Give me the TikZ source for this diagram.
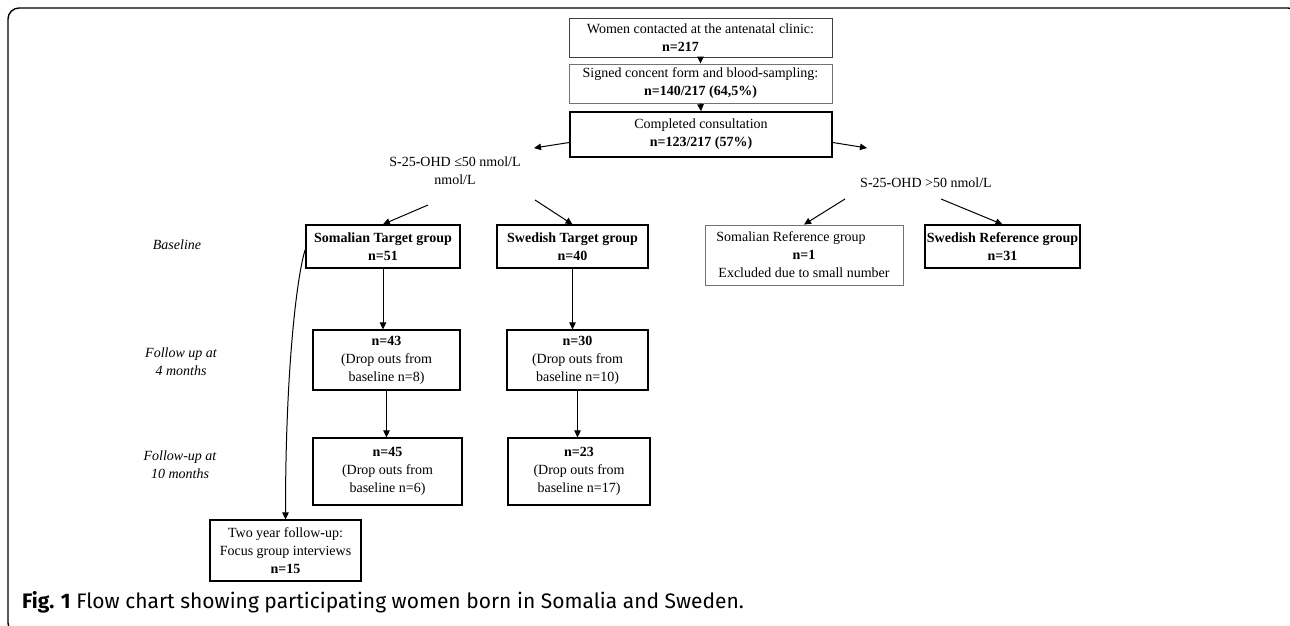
\documentclass[tikz,border=0pt]{standalone}
\usepackage{fontspec}
\setmainfont{Liberation Serif}
\newfontfamily\capfont{Fira Sans}
\usetikzlibrary{arrows.meta}
\tikzset{
  txt/.style={font=\fontsize{14}{18}\selectfont, align=center, inner sep=0pt},
  bx/.style={txt, draw, line width=1.2pt},
  thinbx/.style={txt, draw=black!55, line width=0.9pt},
  lab/.style={font=\fontsize{14}{18}\selectfont\itshape, align=center, inner sep=0pt},
  conn/.style={line width=1pt, -{Triangle[length=7pt,width=6.5pt]}},
}
\begin{document}
\begin{tikzpicture}[x=1pt,y=-1pt]
\useasboundingbox (0,0) rectangle (1290,626);
\fill[white] (0,0) rectangle (1290,626);
% frame
\draw[line width=1.4pt, rounded corners=11pt] (8,8) rectangle (1299,634);

% top chain
\node[thinbx, draw=black!75, minimum width=263pt, minimum height=39pt] (b1) at (700.5,37.5)
  {Women contacted at the antenatal clinic:\\ \textbf{n=217}\hspace*{40pt}};
\node[thinbx, minimum width=263pt, minimum height=39pt] (b2) at (700.5,83.5)
  {Signed concent form and blood\textbf{-}sampling:\\ \textbf{n=140/217 (64,5\%)}};
\node[bx, line width=1.6pt, minimum width=262pt, minimum height=45pt] (b3) at (701,134.5)
  {Completed consultation\\ \textbf{n=123/217 (57\%)}};

% branch labels
\node[txt] (low) at (455,171) {S\textbf{-}25\textbf{-}OHD ≤50 nmol/L\\ nmol/L};
\node[txt] (high) at (926,183) {S\textbf{-}25\textbf{-}OHD >50 nmol/L};

% baseline row
\node[bx, line width=1.4pt, minimum width=154pt, minimum height=43pt] (stg) at (383,246.5)
  {\textbf{Somalian Target group}\\ \textbf{n=51}};
\node[bx, minimum width=151pt, minimum height=43pt] (swtg) at (572.5,246.5)
  {\textbf{Swedish Target group}\\ \textbf{n=40}};
\node[thinbx, minimum width=198pt, minimum height=60pt] (somref) at (804,255)
  {Somalian Reference group\hspace*{26pt}\\ \textbf{n=1}\\ Excluded due to small number};
\node[bx, minimum width=155pt, minimum height=43pt] (swref) at (1002.5,246.5)
  {\textbf{Swedish Reference group}\\ \textbf{n=31}};

% follow-up rows
\node[bx, minimum width=147pt, minimum height=60pt] (n43) at (386.5,360)
  {\textbf{n=43}\\ (Drop outs from\\ baseline n=8)};
\node[bx, minimum width=141pt, minimum height=60pt] (n30) at (577.5,360)
  {\textbf{n=30}\\ (Drop outs from\\ baseline n=10)};
\node[bx, minimum width=149pt, minimum height=67pt] (n45) at (387.5,471.5)
  {\textbf{n=45}\\ (Drop outs from\\ baseline n=6)};
\node[bx, minimum width=142pt, minimum height=67pt] (n23) at (579,471.5)
  {\textbf{n=23}\\ (Drop outs from\\ baseline n=17)};
\node[bx, minimum width=151pt, minimum height=61pt] (two) at (285.5,550.5)
  {Two year follow\textbf{-}up:\\ Focus group interviews\\ \textbf{n=15}};

% row labels
\node[lab] (lbase) at (177,245) {Baseline};
\node[lab] (lfu4) at (181,362) {Follow up at\\ 4 months};
\node[lab] (lfu10) at (180,465) {Follow-up at\\ 10 months};

% caption
\node[anchor=base west, inner sep=0pt, font=\capfont\fontsize{21}{25}\selectfont] (cap) at (22,608)
  {\textbf{Fig. 1} Flow chart showing participating women born in Somalia and Sweden.};

% connector end points
\coordinate (bl) at (534,148);
\coordinate (br) at (867,148);
\coordinate (ll) at (428,205);
\coordinate (lr) at (535,200);
\coordinate (hl) at (845,199);
\coordinate (hr) at (941,199);

% connectors
\draw[conn] (b1.south) -- (b2.north);
\draw[conn] (b2.south) -- (b3.north);
\draw[conn] ([yshift=-8pt]b3.west) -- (bl);
\draw[conn] ([yshift=-8pt]b3.east) -- (br);
\draw[conn] (ll) -- (stg.north);
\draw[conn] (lr) -- (swtg.north);
\draw[conn] (hl) -- (somref.north);
\draw[conn] (hr) -- (swref.north);
\draw[conn] (stg.south) -- (stg.south |- n43.north);
\draw[conn] (swtg.south) -- (swtg.south |- n30.north);
\draw[conn] (n43.south) -- (n43.south |- n45.north);
\draw[conn] (n30.south) -- (n30.south |- n23.north);
\draw[conn] ([yshift=-3pt]stg.west) .. controls +(-7,20) and +(0,-160) .. (two.north);
\end{tikzpicture}
\end{document}
